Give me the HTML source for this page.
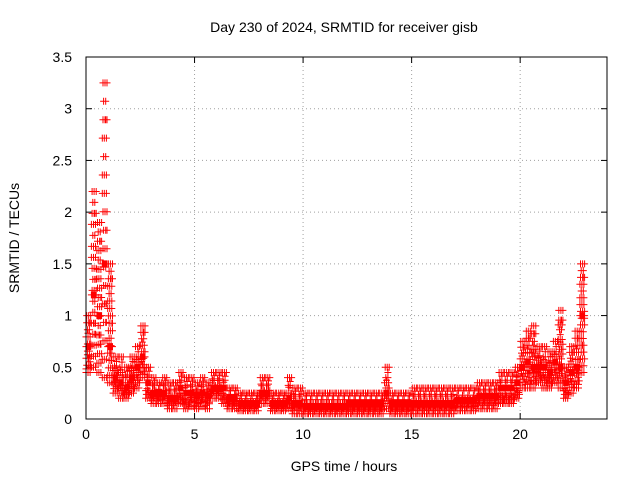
<!DOCTYPE html>
<html><head><meta charset="utf-8"><style>
html,body{margin:0;padding:0;background:#fff;}
svg{display:block;font-family:"Liberation Sans",sans-serif;}
</style></head><body>
<svg id="chart" width="640" height="480" viewBox="0 0 640 480">
<rect x="0" y="0" width="640" height="480" fill="#fff"/>
<text x="344" y="32" font-size="14" text-anchor="middle">Day 230 of 2024, SRMTID for receiver gisb</text>
<text x="344" y="471" font-size="14" text-anchor="middle">GPS time / hours</text>
<text x="19" y="238" font-size="14" text-anchor="middle" transform="rotate(-90 19 238)">SRMTID / TECUs</text>
<g id="grid"></g><g id="ticks"></g><g id="marks"></g>
<rect x="86" y="57" width="521" height="362" fill="none" stroke="#000" stroke-width="1"/>
</svg>
<script>
const xTicks = [0,5,10,15,20];
const yTicks = [0,0.5,1,1.5,2,2.5,3,3.5];
const yTickLabels = ["0","0.5","1","1.5","2","2.5","3","3.5"];
const times = [0,0.25,0.5,0.75,1,1.25,1.5,1.75,2,2.25,2.5,2.75,3,3.25,3.5,3.75,4,4.25,4.5,4.75,5,5.25,5.5,5.75,6,6.25,6.5,6.75,7,7.25,7.5,7.75,8,8.25,8.5,8.75,9,9.25,9.5,9.75,10,10.25,10.5,10.75,11,11.25,11.5,11.75,12,12.25,12.5,12.75,13,13.25,13.5,13.75,14,14.25,14.5,14.75,15,15.25,15.5,15.75,16,16.25,16.5,16.75,17,17.25,17.5,17.75,18,18.25,18.5,18.75,19,19.25,19.5,19.75,20,20.25,20.5,20.75,21,21.25,21.5,21.75,22,22.25,22.5,22.75];
const lowVals = [0.45,0.5,0.45,0.4,0.35,0.25,0.2,0.2,0.25,0.3,0.4,0.2,0.15,0.15,0.15,0.1,0.1,0.15,0.1,0.12,0.1,0.12,0.1,0.2,0.2,0.15,0.1,0.1,0.08,0.08,0.08,0.08,0.15,0.15,0.08,0.08,0.08,0.1,0.05,0.05,0.05,0.05,0.05,0.05,0.05,0.05,0.05,0.05,0.05,0.05,0.05,0.05,0.05,0.05,0.05,0.1,0.05,0.05,0.05,0.05,0.05,0.05,0.05,0.05,0.05,0.05,0.05,0.05,0.08,0.08,0.08,0.08,0.1,0.1,0.1,0.1,0.15,0.15,0.15,0.2,0.3,0.3,0.3,0.35,0.3,0.3,0.35,0.3,0.2,0.25,0.3,0.45];
const midVals = [0.7,1.2,1.0,1.5,0.7,0.4,0.35,0.3,0.4,0.5,0.6,0.35,0.25,0.25,0.25,0.2,0.2,0.3,0.25,0.25,0.22,0.25,0.22,0.3,0.3,0.3,0.2,0.2,0.15,0.15,0.15,0.15,0.25,0.25,0.15,0.15,0.15,0.2,0.15,0.15,0.12,0.12,0.12,0.12,0.12,0.12,0.12,0.12,0.15,0.15,0.15,0.15,0.15,0.15,0.15,0.25,0.15,0.15,0.15,0.15,0.15,0.15,0.15,0.15,0.15,0.15,0.15,0.15,0.18,0.18,0.18,0.18,0.22,0.22,0.22,0.22,0.3,0.3,0.3,0.35,0.5,0.55,0.5,0.5,0.5,0.45,0.55,0.5,0.35,0.45,0.5,1.0];
const highVals = [1.0,2.2,1.9,3.25,1.5,0.6,0.6,0.5,0.6,0.7,0.9,0.5,0.4,0.35,0.4,0.35,0.35,0.45,0.4,0.4,0.35,0.4,0.35,0.45,0.45,0.45,0.3,0.3,0.25,0.25,0.25,0.25,0.4,0.4,0.25,0.25,0.25,0.4,0.3,0.3,0.25,0.25,0.25,0.25,0.25,0.25,0.25,0.25,0.25,0.25,0.25,0.25,0.25,0.25,0.25,0.5,0.25,0.25,0.25,0.25,0.3,0.3,0.3,0.3,0.3,0.3,0.3,0.3,0.3,0.3,0.3,0.3,0.35,0.35,0.35,0.35,0.45,0.45,0.45,0.5,0.75,0.85,0.9,0.7,0.7,0.65,0.75,1.05,0.5,0.7,0.85,1.5];

const NS="http://www.w3.org/2000/svg";
const X0=86,X1=607,Y0=419,Y1=57,XMAX=24,YMAX=3.5;
function sx(v){return X0+(X1-X0)*v/XMAX;}
function sy(v){return Y0-(Y0-Y1)*v/YMAX;}
function mk(tag,attrs,parent){const e=document.createElementNS(NS,tag);for(const k in attrs)e.setAttribute(k,attrs[k]);parent.appendChild(e);return e;}
const grid=document.getElementById('grid'),ticks=document.getElementById('ticks'),marks=document.getElementById('marks');
xTicks.forEach(v=>{
  const x=sx(v);
  if(v>0){const g=mk('line',{x1:x,y1:Y0,x2:x,y2:Y1,stroke:'#a0a0a0','stroke-dasharray':'1,3'},grid);
  
  }
  mk('line',{x1:x,y1:Y0,x2:x,y2:Y0-6,stroke:'#000'},ticks);
  mk('line',{x1:x,y1:Y1,x2:x,y2:Y1+6,stroke:'#000'},ticks);
  const t=mk('text',{x:x,y:Y0+20,'font-size':14,'text-anchor':'middle'},ticks);
  t.textContent=String(v);
  
  
});
yTicks.forEach((v,i)=>{
  const y=sy(v);
  if(v>0&&v<YMAX){const g=mk('line',{x1:X0,y1:y,x2:X1,y2:y,stroke:'#a0a0a0','stroke-dasharray':'1,3'},grid);
  
  }
  mk('line',{x1:X0,y1:y,x2:X0+6,y2:y,stroke:'#000'},ticks);
  mk('line',{x1:X1,y1:y,x2:X1-6,y2:y,stroke:'#000'},ticks);
  const t=mk('text',{x:X0-14,y:y+5,'font-size':14,'text-anchor':'end'},ticks);
  t.textContent=yTickLabels[i];
  
  
});
let d='';
function plus(t,v){const x=sx(t),y=sy(v);d+=`M${(x-3.5).toFixed(1)} ${y.toFixed(1)}h7M${x.toFixed(1)} ${(y-3.5).toFixed(1)}v7`;}
const fr=[0,0.5,1,0.25,0.75,0.125,0.625,0.375,0.875,0.0625,0.3125,0.5625,0.8125,0.1875,0.4375,0.6875,0.9375];
times.forEach((t,i)=>{
  const lo=lowVals[i],hi=highVals[i],m=midVals[i];
  const span=hi-lo;
  const n=Math.max(3,Math.min(fr.length,Math.ceil(sy(lo)-sy(hi))/5|0));
  for(let k=0;k<8;k++){
    const tt=t+k*0.03125;
    plus(tt,m);
    for(let j=0;j<n;j++){ if((j+k)%3===0) plus(tt,lo+span*fr[j]); }
    plus(tt,lo+span*fr[(k*5)%fr.length]);
  }
});
const p=mk('path',{d:d,stroke:'#ff0000','stroke-width':1,fill:'none'},marks);


</script>
</body></html>
